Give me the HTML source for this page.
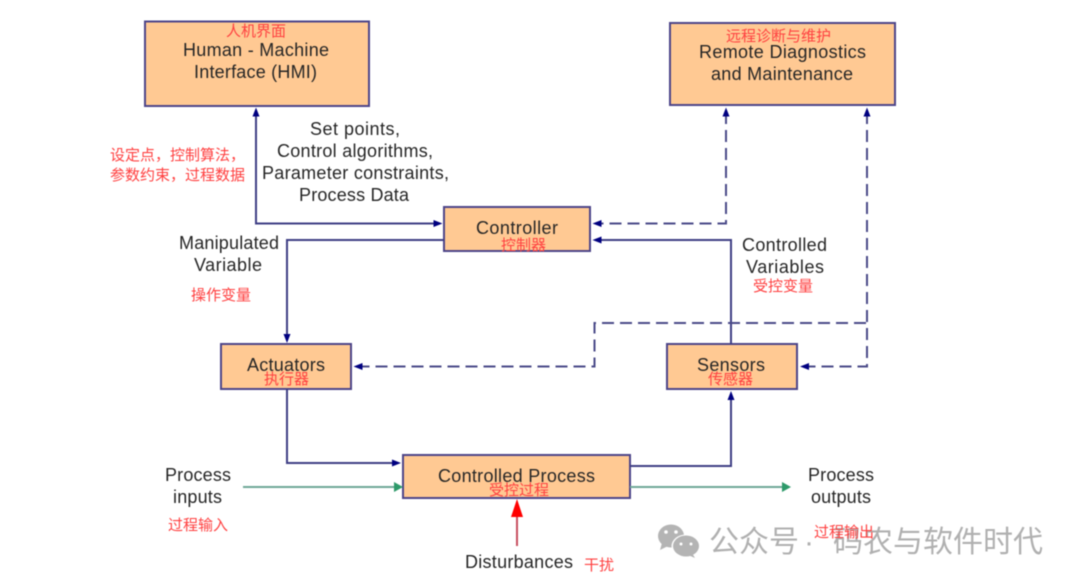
<!DOCTYPE html>
<html><head><meta charset="utf-8"><style>
html,body{margin:0;padding:0;background:#fff;width:1080px;height:585px;overflow:hidden}
svg{display:block;filter:blur(.4px)}
.t{font-family:"Liberation Sans",sans-serif;font-size:18px;fill:#262626;text-anchor:start}
.c{font-family:"Liberation Sans","Noto Sans CJK SC",sans-serif;font-size:15px;fill:#ff4040}
.b{fill:#ffc993;stroke:#4d4589;stroke-width:2}
.l{fill:none;stroke:#3f3f85;stroke-width:2}
.d{fill:none;stroke:#4a4a88;stroke-width:2;stroke-dasharray:12 6}
.a{fill:#000080}
.w{font-family:"Liberation Sans","Noto Sans CJK SC",sans-serif;font-size:30px;fill:#b0b0b0}
</style></head><body>
<svg width="1080" height="585" viewBox="0 0 1080 585" xmlns="http://www.w3.org/2000/svg">
<rect class="b" x="145" y="21.500" width="224" height="84.500"/>
<rect class="b" x="670" y="23" width="225" height="82"/>
<rect class="b" x="444" y="207" width="146" height="44"/>
<rect class="b" x="221" y="344" width="130" height="45"/>
<rect class="b" x="667" y="344" width="130" height="45"/>
<rect class="b" x="403" y="455" width="227" height="43"/>

<path class="l" d="M256 112V223.500H436"/>
<path class="l" d="M444 240H287V336"/>
<path class="l" d="M287 389V463H394"/>
<path class="l" d="M630 466H731V398"/>
<path class="l" d="M731 344V240H598"/>
<path class="d" d="M726 112V223.500H598"/>
<path class="d" d="M867 112V366.500H806"/>
<path class="d" d="M866 323H594.500V366.500H360"/>

<path class="a" d="M256 107.500l-3.500 9h7z"/>
<path class="a" d="M442.500 223.500l-9-3.500v7z"/>
<path class="a" d="M287 343l-3.500-9h7z"/>
<path class="a" d="M401 463l-9-3.500v7z"/>
<path class="a" d="M731 391l-3.500 9h7z"/>
<path class="a" d="M726 107.500l-3.500 9h7z"/>
<path class="a" d="M867 107.500l-3.500 9h7z"/>
<path class="a" d="M592.500 223.500l9-3.500v7z"/>
<path class="a" d="M592.500 240l9-3.500v7z"/>
<path class="a" d="M353.500 366.500l9-3.500v7z"/>
<path class="a" d="M800 366.500l9-3.500v7z"/>

<path d="M243 487H395" fill="none" stroke="#6fa898" stroke-width="2"/>
<path d="M403 487l-9-5v10z" fill="#2e9a6a"/>
<path d="M630 487H782" fill="none" stroke="#6fa898" stroke-width="2"/>
<path d="M791 487l-9-5v10z" fill="#2e9a6a"/>
<path d="M517 546V515" fill="none" stroke="#c85060" stroke-width="2"/>
<path d="M517 499l-6 18h12z" fill="#f00"/>

<text class="t" x="183" y="56" textLength="146" lengthAdjust="spacing">Human - Machine</text>
<text class="t" x="194" y="78" textLength="123" lengthAdjust="spacing">Interface (HMI)</text>
<text class="t" x="699" y="58" textLength="167" lengthAdjust="spacing">Remote Diagnostics</text>
<text class="t" x="711" y="80" textLength="142" lengthAdjust="spacing">and Maintenance</text>
<text class="t" x="310" y="135" textLength="90" lengthAdjust="spacing">Set points,</text>
<text class="t" x="277" y="157" textLength="156" lengthAdjust="spacing">Control algorithms,</text>
<text class="t" x="262" y="179" textLength="187" lengthAdjust="spacing">Parameter constraints,</text>
<text class="t" x="299" y="201" textLength="110" lengthAdjust="spacing">Process Data</text>
<text class="t" x="179" y="249" textLength="100" lengthAdjust="spacing">Manipulated</text>
<text class="t" x="194" y="271" textLength="68" lengthAdjust="spacing">Variable</text>
<text class="t" x="742" y="251" textLength="85" lengthAdjust="spacing">Controlled</text>
<text class="t" x="746" y="273" textLength="78" lengthAdjust="spacing">Variables</text>
<text class="t" x="476" y="234" textLength="82" lengthAdjust="spacing">Controller</text>
<text class="t" x="247" y="371" textLength="78" lengthAdjust="spacing">Actuators</text>
<text class="t" x="697" y="371" textLength="68" lengthAdjust="spacing">Sensors</text>
<text class="t" x="438" y="482" textLength="157" lengthAdjust="spacing">Controlled Process</text>
<text class="t" x="165" y="481" textLength="66" lengthAdjust="spacing">Process</text>
<text class="t" x="173" y="503" textLength="49" lengthAdjust="spacing">inputs</text>
<text class="t" x="808" y="481" textLength="66" lengthAdjust="spacing">Process</text>
<text class="t" x="811" y="503" textLength="60" lengthAdjust="spacing">outputs</text>
<text class="t" x="465" y="568" textLength="108" lengthAdjust="spacing">Disturbances</text>

<g fill="#b4b4b4">
<ellipse cx="671" cy="536" rx="13" ry="11.500"/>
<path d="M662 543l-2 7 8-4z"/>
</g>
<ellipse cx="686" cy="546" rx="14.500" ry="11.500" fill="#fff"/>
<ellipse cx="686" cy="546" rx="13" ry="10.500" fill="#b4b4b4"/>
<path d="M692 553l3 5-7-3z" fill="#b4b4b4"/>
<g fill="#fff"><circle cx="666" cy="532" r="1.800"/><circle cx="676" cy="532" r="1.800"/><circle cx="681" cy="544" r="1.500"/><circle cx="691" cy="544" r="1.500"/></g>
<text class="w" x="709" y="552">公众号</text>
<text class="w" x="804" y="552">·</text>
<text class="w" x="833" y="552">码农与软件时代</text>

<text class="c" x="226" y="36">人机界面</text>
<text class="c" x="726" y="41">远程诊断与维护</text>
<text class="c" x="110" y="160">设定点，控制算法，</text>
<text class="c" x="110" y="180">参数约束，过程数据</text>
<text class="c" x="191" y="300">操作变量</text>
<text class="c" x="753" y="291">受控变量</text>
<text class="c" x="501" y="250">控制器</text>
<text class="c" x="264" y="384">执行器</text>
<text class="c" x="708" y="384">传感器</text>
<text class="c" x="489" y="495">受控过程</text>
<text class="c" x="168" y="530">过程输入</text>
<text class="c" x="814" y="537">过程输出</text>
<text class="c" x="584" y="570">干扰</text>
</svg>
</body></html>
